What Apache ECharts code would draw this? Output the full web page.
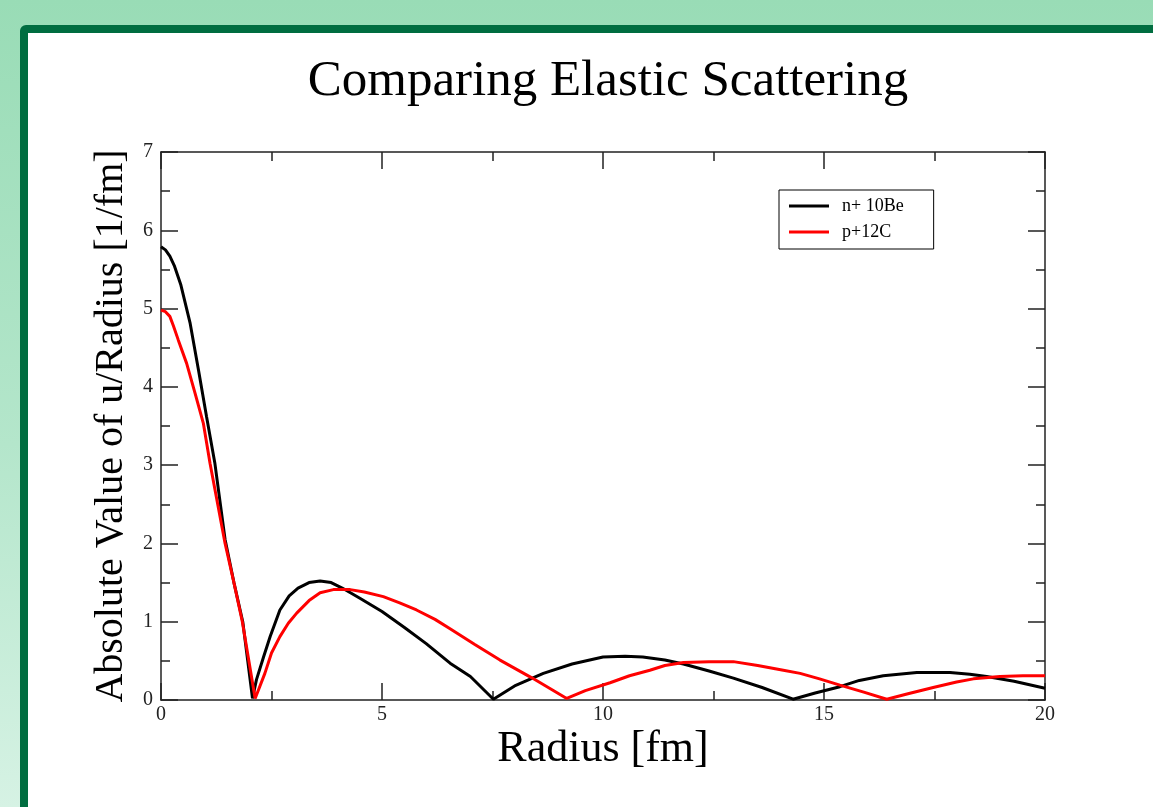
<!DOCTYPE html>
<html>
<head>
<meta charset="utf-8">
<script src="https://cdn.jsdelivr.net/npm/echarts@6/dist/echarts.min.js"></script>
<style>
    html, body {
        margin: 0;
        padding: 0;
        width: 1153px;
        height: 807px;
        overflow: hidden;
        background: linear-gradient(180deg, #99dcb6 0%, #b4e6cb 55%, #d6f2e4 100%);
    }
    .frame {
        position: absolute;
        left: 20px;
        top: 25px;
        width: 1200px;
        height: 900px;
        border: 8px solid #006d40;
        border-radius: 6px;
        background: #fff;
    }
    #chart {
        position: absolute;
        left: 0;
        top: 0;
        width: 1153px;
        height: 807px;
    }
</style>
</head>
<body>
<div class="frame"></div>
<div id="chart"></div>
<script>
// n+ 10Be (black)
const beRadius = [0, 0.1, 0.2, 0.3, 0.45, 0.66, 0.85, 1.03, 1.22, 1.45, 1.65, 1.85, 2.07, 2.16, 2.32, 2.47, 2.69, 2.9, 3.1, 3.35, 3.6, 3.85, 4.1, 4.5, 5.0, 5.5, 6.0, 6.54, 7.0, 7.52, 8.0, 8.65, 9.3, 10.0, 10.5, 10.9, 11.4, 11.82, 12.4, 12.95, 13.6, 14.3, 14.8, 15.36, 15.8, 16.34, 17.1, 17.85, 18.3, 18.68, 19.3, 20];
const beValue = [5.79, 5.75, 5.67, 5.55, 5.3, 4.81, 4.21, 3.62, 3.02, 2.05, 1.5, 1.0, 0.02, 0.26, 0.55, 0.81, 1.15, 1.33, 1.43, 1.5, 1.52, 1.5, 1.43, 1.3, 1.13, 0.93, 0.72, 0.47, 0.3, 0.01, 0.18, 0.34, 0.46, 0.55, 0.56, 0.55, 0.51, 0.46, 0.37, 0.28, 0.16, 0.01, 0.09, 0.17, 0.25, 0.31, 0.35, 0.35, 0.33, 0.3, 0.24, 0.15];

// p+12C (red)
const cRadius = [0, 0.1, 0.2, 0.28, 0.39, 0.58, 0.77, 0.96, 1.11, 1.45, 1.65, 1.84, 2.13, 2.35, 2.5, 2.69, 2.88, 3.07, 3.35, 3.6, 3.9, 4.28, 4.6, 5.03, 5.4, 5.78, 6.2, 6.54, 7.1, 7.67, 8.4, 9.18, 9.6, 10.16, 10.6, 11.06, 11.4, 11.82, 12.4, 12.95, 13.5, 14.08, 14.46, 14.9, 15.36, 15.9, 16.42, 16.9, 17.47, 18.0, 18.38, 18.98, 19.5, 20];
const cValue = [4.98, 4.96, 4.9, 4.78, 4.6, 4.3, 3.92, 3.53, 3.02, 2.0, 1.5, 1.0, 0.02, 0.34, 0.6, 0.81, 0.98, 1.11, 1.27, 1.37, 1.41, 1.41, 1.38, 1.32, 1.24, 1.15, 1.03, 0.91, 0.71, 0.51, 0.28, 0.02, 0.12, 0.22, 0.31, 0.38, 0.44, 0.48, 0.49, 0.49, 0.44, 0.38, 0.34, 0.27, 0.19, 0.1, 0.01, 0.08, 0.16, 0.23, 0.27, 0.3, 0.31, 0.31];

const seriesNames = ['n+ 10Be', 'p+12C'];
const seriesColors = ['#000000', '#ff0000'];

const serif = "'Liberation Serif', 'Times New Roman', serif";

function pairs(xs, ys) {
    return xs.map((x, i) => [x, ys[i]]);
}

let myChart = echarts.init(document.getElementById('chart'));

// inward ticks, used on all four sides of the frame
const tickStyle = {
    axisTick: { show: true, inside: true, length: 17, lineStyle: { color: '#222', width: 1.5 } },
    minorTick: { show: true, splitNumber: 2, length: 9, lineStyle: { color: '#222', width: 1.5 } },
    axisLine: { show: true, onZero: false, lineStyle: { color: '#222', width: 1.5 } },
    splitLine: { show: false }
};

myChart.setOption({
    animation: false,
    title: {
        text: 'Comparing Elastic Scattering',
        left: 603,
        textAlign: 'center',
        top: 51,
        textStyle: { fontFamily: serif, fontSize: 51, fontWeight: 'normal', color: '#000' }
    },
    legend: {
        orient: 'vertical',
        left: 779,
        top: 190,
        padding: [7, 30, 8, 10],
        itemGap: 8,
        itemWidth: 40,
        itemHeight: 3,
        borderColor: '#000',
        borderWidth: 1,
        backgroundColor: '#fff',
        borderRadius: 0,
        icon: 'rect',
        textStyle: { fontFamily: serif, fontSize: 18, color: '#000', padding: [0, 0, 0, 8] },
        data: seriesNames
    },
    grid: {
        left: 161,
        right: 108,
        top: 152,
        bottom: 107,
        show: false
    },
    xAxis: [
        Object.assign({
            type: 'value',
            min: 0,
            max: 20,
            interval: 5,
            name: 'Radius [fm]',
            nameLocation: 'middle',
            nameGap: 27,
            nameMoveOverlap: false,
            nameTextStyle: { fontFamily: serif, fontSize: 44, color: '#000' },
            axisLabel: { fontFamily: serif, fontSize: 20, color: '#222', margin: 5 }
        }, tickStyle),
        Object.assign({
            type: 'value',
            position: 'top',
            min: 0,
            max: 20,
            interval: 5,
            axisLabel: { show: false }
        }, tickStyle)
    ],
    yAxis: [
        Object.assign({
            type: 'value',
            min: 0,
            max: 7,
            interval: 1,
            name: 'Absolute Value of u/Radius [1/fm]',
            nameLocation: 'middle',
            nameGap: 30,
            nameMoveOverlap: false,
            nameTextStyle: { fontFamily: serif, fontSize: 40, color: '#000' },
            axisLabel: { fontFamily: serif, fontSize: 20, color: '#222', margin: 8 }
        }, tickStyle),
        Object.assign({
            type: 'value',
            position: 'right',
            min: 0,
            max: 7,
            interval: 1,
            axisLabel: { show: false }
        }, tickStyle)
    ],
    series: [
        {
            name: seriesNames[0],
            type: 'line',
            showSymbol: false,
            color: seriesColors[0],
            lineStyle: { width: 3 },
            data: pairs(beRadius, beValue)
        },
        {
            name: seriesNames[1],
            type: 'line',
            showSymbol: false,
            color: seriesColors[1],
            lineStyle: { width: 3 },
            data: pairs(cRadius, cValue)
        }
    ]
});
</script>
</body>
</html>
